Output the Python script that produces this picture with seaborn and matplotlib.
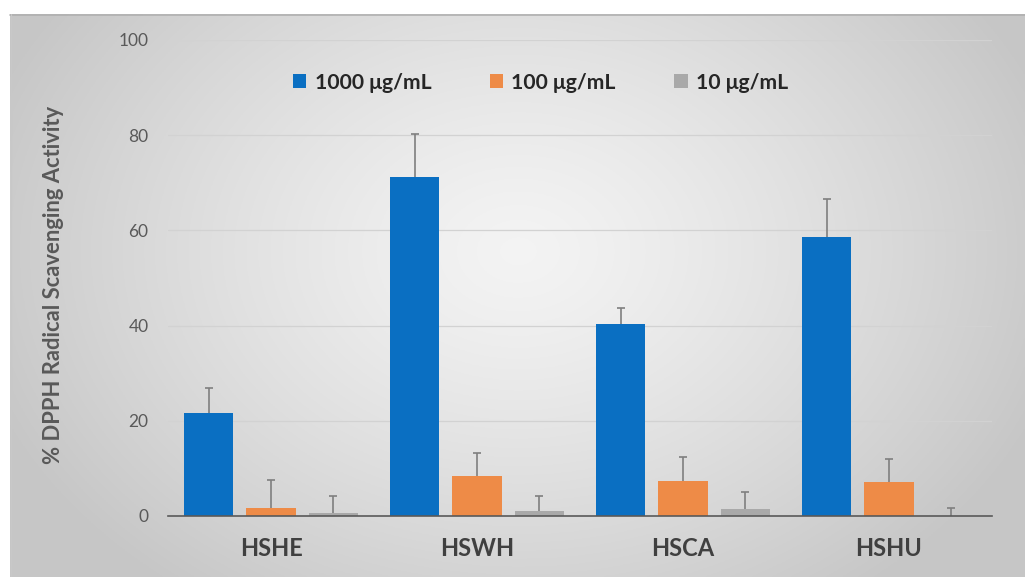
import numpy as np
import pandas as pd
import matplotlib
matplotlib.use('Agg')
import matplotlib.pyplot as plt
import seaborn as sns

samples = ['HSHE', 'HSWH', 'HSCA', 'HSHU']
concentrations = ['1000 μg/mL', '100 μg/mL', '10 μg/mL']
vals_1000 = [21.7, 71.3, 40.4, 58.6]
vals_100 = [1.7, 8.3, 7.4, 7.2]
vals_10 = [0.7, 1.1, 1.5, 0.05]
err_1000 = [5.1, 8.9, 3.2, 8.1]
err_100 = [5.9, 4.9, 5.1, 4.8]
err_10 = [3.6, 3.0, 3.5, 1.6]
yticks = [0, 20, 40, 60, 80, 100]
colors = ['#0A6FC2', '#EE8B47', '#A9A9A9']

sns.set_style('white')
plt.rcParams['font.family'] = ['Lato', 'DejaVu Sans']

df = pd.DataFrame({
    'sample': samples * 3,
    'conc': [c for c in concentrations for _ in samples],
    'value': vals_1000 + vals_100 + vals_10,
})
errs = [err_1000, err_100, err_10]

W, H = 1025, 577
fig = plt.figure(figsize=(W / 100, H / 100), dpi=100, facecolor='white')

# background radial gradient panel
bg = fig.add_axes([10 / W, 0, 1 - 10 / W, (H - 14) / H], zorder=-10)
ny, nx = 300, 540
yy, xx = np.mgrid[0:ny, 0:nx]
cx, cy = nx * 0.50, ny * 0.42
r = np.sqrt(((xx - cx) / (nx * 0.55)) ** 2 + ((yy - cy) / (ny * 0.75)) ** 2)
r = np.clip(r, 0, 1)
c0, c1 = 0.955, 0.78
img = c0 + (c1 - c0) * r ** 1.3
bg.imshow(np.dstack([img, img, img]), aspect='auto', extent=[0, 1, 0, 1], origin='upper')
bg.set_xlim(0, 1); bg.set_ylim(0, 1)
bg.axis('off')
bg.plot([0, 1], [0.999, 0.999], color='#b0b0b0', lw=1.2, transform=bg.transAxes, clip_on=False)
bg.plot([0.0005, 0.0005], [0, 1], color='#c8c8c8', lw=0.8, transform=bg.transAxes, clip_on=False)

ax = fig.add_axes([168 / W, (H - 516) / H, 824 / W, 476 / H])
ax.patch.set_alpha(0)

sns.barplot(data=df, x='sample', y='value', hue='conc', order=samples,
            hue_order=concentrations, palette=colors, errorbar=None,
            width=0.904, gap=0.21, ax=ax, saturation=1, zorder=3,
            linewidth=0, edgecolor='none')

for cont, e in zip(ax.containers, errs):
    xs = [b.get_x() + b.get_width() / 2 for b in cont]
    hs = [b.get_height() for b in cont]
    _, caps, _ = ax.errorbar(xs, hs, yerr=[np.zeros(len(e)), e], fmt='none',
                             ecolor='#7f7f7f', elinewidth=1.2, capsize=3,
                             capthick=1.2, zorder=4)
    caps[0].set_visible(False)

ax.set_xlim(-0.5, 3.5)
ax.set_ylim(0, 100)
ax.set_yticks(yticks)
ax.set_yticklabels([str(t) for t in yticks], fontsize=12.5, color='#595959')
ax.yaxis.grid(True, color='#d2d2d2', lw=0.9, zorder=0)
ax.set_axisbelow(True)
for s in ['top', 'right', 'left']:
    ax.spines[s].set_visible(False)
ax.spines['bottom'].set_color('#595959')
ax.spines['bottom'].set_linewidth(1.2)
ax.spines['bottom'].set_zorder(5)
ax.tick_params(axis='both', length=0)
ax.tick_params(axis='y', pad=14)
ax.tick_params(axis='x', pad=15)
for lbl in ax.get_xticklabels():
    lbl.set_fontsize(17)
    lbl.set_fontweight('bold')
    lbl.set_color('#404040')
    lbl.set_family(['Liberation Sans Narrow', 'Lato', 'DejaVu Sans'])
ax.set_xlabel('')
ax.set_ylabel('% DPPH Radical Scavenging Activity', fontsize=15.8, fontweight='bold',
              color='#595959')
ax.yaxis.set_label_coords(-0.126, 0.486)

handles, labels = ax.get_legend_handles_labels()
ax.legend(handles, labels, loc='center', bbox_to_anchor=(0.452, 0.91), ncol=3,
          frameon=False, handlelength=0.64, handleheight=0.64, handletextpad=0.4,
          columnspacing=2.76, prop={'size': 15.2, 'weight': 'bold'}, labelcolor='#262626')

fig.savefig('out.png', dpi=100, facecolor='white')
